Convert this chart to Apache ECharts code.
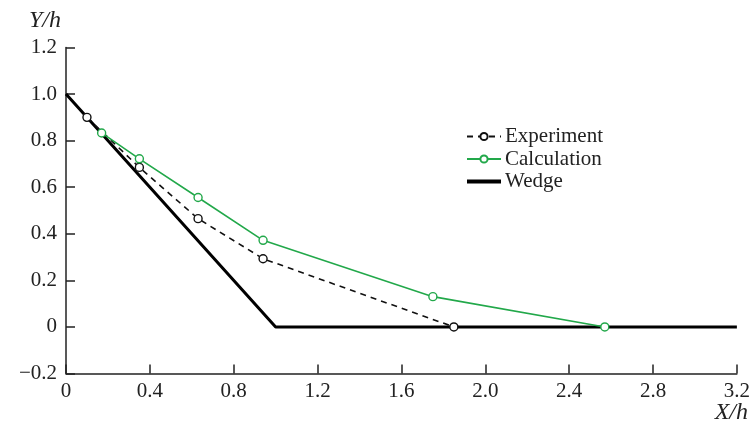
<!DOCTYPE html>
<html>
<head>
<meta charset="utf-8">
<script src="https://cdn.jsdelivr.net/npm/echarts@6/dist/echarts.min.js"></script>
<style>
  html, body { margin: 0; padding: 0; background: #fff; }
  #chart { width: 753px; height: 434px; }
</style>
</head>
<body>
<div id="chart"></div>
<script>
// Profiles of the free surface behind the wedge, Y/h versus X/h
const experimentX = [0.10, 0.35, 0.63, 0.94, 1.85];
const experimentY = [0.90, 0.685, 0.465, 0.293, 0.0];

const calculationX = [0.17, 0.35, 0.63, 0.94, 1.75, 2.57];
const calculationY = [0.833, 0.722, 0.556, 0.372, 0.130, 0.0];

const wedgeX = [0, 1.0, 3.2];
const wedgeY = [1.0, 0.0, 0.0];

const xTicks = [0, 0.4, 0.8, 1.2, 1.6, 2.0, 2.4, 2.8, 3.2];
const yTicks = [-0.2, 0, 0.2, 0.4, 0.6, 0.8, 1.0, 1.2];

const seriesNames = ['Experiment', 'Calculation', 'Wedge'];

const pairs = (xs, ys) => xs.map((x, i) => [x, ys[i]]);
const fmt = v => {
  if (Math.abs(v) < 1e-9) return '0';
  const s = v.toFixed(1);
  return s.replace('-', '\u2212');
};

const serif = 'Liberation Serif, Times New Roman, serif';
const green = '#22a84a';

const chart = echarts.init(document.getElementById('chart'), null, { renderer: 'canvas' });
chart.setOption({
  animation: false,
  backgroundColor: '#ffffff',
  grid: { left: 66, right: 16, top: 47.5, bottom: 60.5, containLabel: false },
  legend: {
    orient: 'vertical',
    left: 460,
    top: 121,
    itemWidth: 34,
    itemHeight: 9,
    itemGap: 1.5,
    data: [
      { name: seriesNames[0] },
      { name: seriesNames[1] },
      { name: seriesNames[2], itemStyle: { opacity: 0 }, lineStyle: { width: 4 } }
    ],
    textStyle: { fontFamily: serif, fontSize: 21, color: '#222', padding: [0, 0, 0, -1] }
  },
  xAxis: {
    type: 'value',
    min: xTicks[0],
    max: xTicks[xTicks.length - 1],
    interval: 0.4,
    axisLine: { onZero: false, lineStyle: { color: '#222', width: 1.5 } },
    axisTick: { inside: true, length: 9, lineStyle: { color: '#222', width: 1.5 } },
    axisLabel: { fontFamily: serif, fontSize: 21, color: '#222', margin: 7, formatter: fmt },
    splitLine: { show: false }
  },
  yAxis: {
    type: 'value',
    min: yTicks[0],
    max: yTicks[yTicks.length - 1],
    interval: 0.2,
    axisLine: { show: true, onZero: false, lineStyle: { color: '#222', width: 1.5 } },
    axisTick: { show: true, inside: true, length: 9, lineStyle: { color: '#222', width: 1.5 } },
    axisLabel: { fontFamily: serif, fontSize: 21, color: '#222', margin: 9, formatter: fmt },
    splitLine: { show: false }
  },
  graphic: [
    {
      type: 'text', left: 29, top: 9,
      style: { text: 'Y/h', font: 'italic 24px ' + serif, fill: '#222' }
    },
    {
      type: 'text', right: 5, top: 401,
      style: { text: 'X/h', font: 'italic 24px ' + serif, fill: '#222' }
    }
  ],
  series: [
    {
      name: seriesNames[0],
      type: 'line',
      data: pairs(experimentX, experimentY),
      color: '#111',
      symbol: 'circle',
      symbolSize: 8,
      showAllSymbol: true,
      lineStyle: { color: '#111', width: 1.6, type: [6, 5] },
      itemStyle: { color: '#fff', borderColor: '#111', borderWidth: 1.4 },
      z: 3
    },
    {
      name: seriesNames[1],
      type: 'line',
      data: pairs(calculationX, calculationY),
      color: green,
      symbol: 'circle',
      symbolSize: 8,
      showAllSymbol: true,
      lineStyle: { color: green, width: 1.6 },
      itemStyle: { color: '#fff', borderColor: green, borderWidth: 1.4 },
      z: 4
    },
    {
      name: seriesNames[2],
      type: 'line',
      data: pairs(wedgeX, wedgeY),
      color: '#000',
      symbol: 'none',
      lineStyle: { color: '#000', width: 3 },
      z: 2
    }
  ]
});
</script>
</body>
</html>
